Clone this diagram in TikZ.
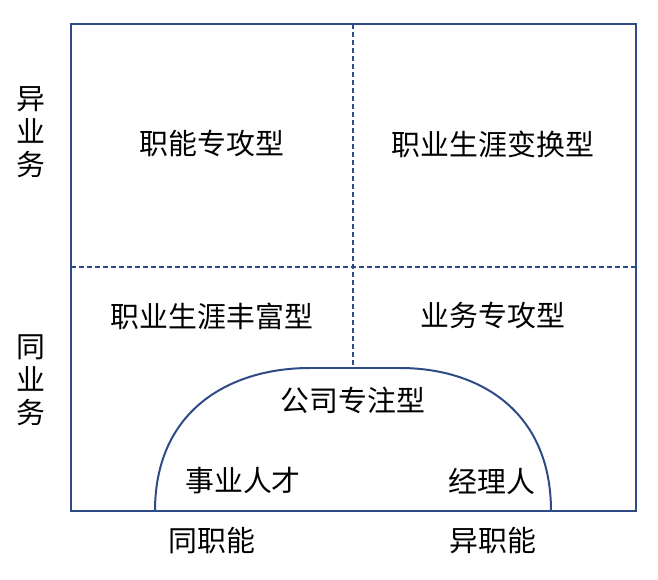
\documentclass[tikz,border=0pt]{standalone}
\usepackage{fontspec}
\newfontfamily\cjk{Noto Sans CJK SC}
\definecolor{ln}{HTML}{2F4B87}
\begin{document}
\begin{tikzpicture}[x=1bp,y=-1bp,
  lab/.style={font=\cjk\fontsize{29}{34}\selectfont,inner sep=0pt},
  vlab/.style={font=\cjk\fontsize{29}{33}\selectfont,inner sep=0pt,align=center},
  frame/.style={draw=ln,line width=2pt},
  dashline/.style={draw=ln,line width=1.5pt,dash pattern=on 5bp off 3bp}]
\useasboundingbox (0,0) rectangle (658,580);
\draw[frame] (71,24) rectangle (636,511);
\coordinate (tm) at (353,24);
\coordinate (am) at (353,368);
\coordinate (ml) at (71,267);
\coordinate (mr) at (636,267);
\draw[dashline] (tm) -- (am);
\draw[dashline] (ml) -- (mr);
\draw[frame] (155,511) .. controls (155,410) and (230,368) .. (310,368) -- (400,368) .. controls (478,368) and (551,410) .. (551,511);
\node[lab] (a) at (212,144) {职能专攻型};
\node[lab] (b) at (493,144) {职业生涯变换型};
\node[lab] (c) at (212,316) {职业生涯丰富型};
\node[lab] (d) at (493,316) {业务专攻型};
\node[lab] (e) at (353,400) {公司专注型};
\node[lab] (f) at (243,481) {事业人才};
\node[lab] (g) at (492,481) {经理人};
\node[lab] (h) at (212,541) {同职能};
\node[lab] (i) at (493,541) {异职能};
\node[vlab] (j) at (31,132) {异\\业\\务};
\node[vlab] (k) at (31,380) {同\\业\\务};
\end{tikzpicture}
\end{document}
